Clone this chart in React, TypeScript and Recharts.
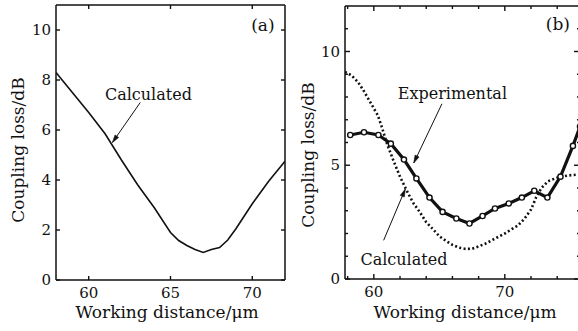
import React from 'react';
import { LineChart, Line, XAxis, YAxis, ReferenceLine, ReferenceDot } from 'recharts';

const FONT = '"DejaVu Serif", serif';
const INK = '#111';

// ---------- Panel (a): calculated coupling loss ----------
const calcAX = [58, 59, 60, 61, 62, 63, 64, 65, 65.5, 66, 66.5, 67, 67.5, 68, 68.5, 69, 69.5, 70, 70.5, 71, 71.5, 72];
const calcAY = [8.3, 7.5, 6.7, 5.85, 4.8, 3.8, 2.9, 1.9, 1.58, 1.38, 1.22, 1.1, 1.22, 1.3, 1.6, 2.05, 2.55, 3.05, 3.5, 3.95, 4.35, 4.75];
const aXTicks = [60, 65, 70];
const aYTicks = [0, 2, 4, 6, 8, 10];

// ---------- Panel (b): experimental vs calculated ----------
const expBX = [58.2, 59.25, 60.35, 61.3, 62.3, 63.25, 64.25, 65.25, 66.3, 67.3, 68.3, 69.25, 70.3, 71.3, 72.25, 73.25, 74.25, 75.2, 75.74];
const expBY = [6.33, 6.45, 6.33, 5.95, 5.25, 4.42, 3.58, 2.95, 2.66, 2.44, 2.77, 3.1, 3.32, 3.58, 3.88, 3.58, 4.5, 5.85, 6.7];
const calcBX = [57.8, 58.3, 58.8, 59.2, 59.6, 60.0, 60.3, 60.6, 61.0, 61.5, 62.0, 62.5, 63.0, 63.5, 64.0, 64.5, 65.0, 65.5, 66.0, 66.5, 67.0, 67.5, 68.0, 68.5, 69.0, 69.5, 70.0, 70.5, 71.0, 71.5, 72.0, 72.4, 72.8, 73.3, 74.0, 74.8, 75.74];
const calcBY = [9.1, 8.95, 8.65, 8.3, 7.9, 7.5, 7.2, 6.7, 5.95, 5.2, 4.5, 3.9, 3.35, 2.95, 2.5, 2.2, 1.88, 1.68, 1.5, 1.38, 1.32, 1.33, 1.43, 1.55, 1.7, 1.85, 2.0, 2.18, 2.35, 2.65, 3.05, 3.6, 4.0, 4.3, 4.45, 4.55, 4.6];
const bXTicks = [58, 60, 62, 64, 66, 68, 70, 72, 74];
const bXLabels = [60, 70];
const bYTicks = [0, 1, 2, 3, 4, 5, 6, 7, 8, 9, 10, 11];
const bYLabels = [0, 5, 10];

const zip = (xs: number[], ys: number[]) => xs.map((x, i) => ({ x, y: ys[i] }));
const dataA = zip(calcAX, calcAY);
const dataBExp = zip(expBX, expBY);
const dataBCalc = zip(calcBX, calcBY);

type Orient = 'bottom' | 'left' | 'top' | 'right';

const makeTick = (orient: Orient, labels: number[], majors: number[], majorLen: number, minorLen: number) =>
  (props: any) => {
    const { x, y, payload } = props;
    const v = payload.value;
    const len = majors.includes(v) ? majorLen : minorLen;
    const showLabel = labels.includes(v);
    let line: React.ReactNode = null;
    let label: React.ReactNode = null;
    if (orient === 'bottom') {
      line = <line x1={x} y1={y} x2={x} y2={y - len} stroke={INK} strokeWidth={1.4} />;
      if (showLabel) label = <text x={x} y={y + 18} textAnchor="middle" fontFamily={FONT} fontSize={15} fill={INK}>{v}</text>;
    } else if (orient === 'top') {
      line = <line x1={x} y1={y} x2={x} y2={y + len} stroke={INK} strokeWidth={1.4} />;
    } else if (orient === 'left') {
      line = <line x1={x} y1={y} x2={x + len} y2={y} stroke={INK} strokeWidth={1.4} />;
      if (showLabel) label = <text x={x - 5} y={y + 5} textAnchor="end" fontFamily={FONT} fontSize={15} fill={INK}>{v}</text>;
    } else {
      line = <line x1={x} y1={y} x2={x - len} y2={y} stroke={INK} strokeWidth={1.4} />;
    }
    return <g>{line}{label}</g>;
  };

const Arrow = (props: any) => {
  const { x1, y1, x2, y2 } = props;
  const ang = Math.atan2(y2 - y1, x2 - x1);
  const L = 8;
  const W = 0.28;
  const p1x = x2 - L * Math.cos(ang - W);
  const p1y = y2 - L * Math.sin(ang - W);
  const p2x = x2 - L * Math.cos(ang + W);
  const p2y = y2 - L * Math.sin(ang + W);
  return (
    <g>
      <line x1={x1} y1={y1} x2={x2} y2={y2} stroke={INK} strokeWidth={1} />
      <path d={`M${p1x},${p1y} L${x2},${y2} L${p2x},${p2y} Z`} fill={INK} stroke={INK} strokeWidth={0.6} />
    </g>
  );
};

const textShape = (txt: string, size: number) => (p: any) => (
  <text x={p.cx} y={p.cy} textAnchor="middle" fontFamily={FONT} fontSize={size} fill={INK}>{txt}</text>
);

const xTitle = (cx: number) => () => (
  <text x={cx} y={318} textAnchor="middle" fontFamily={FONT} fontSize={17} fill={INK}>
    Working distance/μm
  </text>
);

const yTitle = (cx: number, cy: number) => () => (
  <text x={cx} y={cy} transform={`rotate(-90 ${cx} ${cy})`} textAnchor="middle" dominantBaseline="central" fontFamily={FONT} fontSize={17} fill={INK}>
    Coupling loss/dB
  </text>
);

const axisLine = { stroke: INK, strokeWidth: 1.5 };

export default function App() {
  return (
    <div style={{ position: 'absolute', left: 0, top: 0, width: 578, height: 331, overflow: 'hidden', background: '#fff' }}>
      {/* Panel (a) */}
      <div style={{ position: 'absolute', left: 0, top: 0 }}>
        <LineChart width={290} height={331} margin={{ top: 4, right: 4, bottom: 0, left: 0 }}>
          <XAxis xAxisId={0} dataKey="x" type="number" domain={[58, 72]} ticks={aXTicks} interval={0}
            tickSize={0} tickMargin={0} height={51} axisLine={axisLine}
            tick={makeTick('bottom', aXTicks, aXTicks, 4, 4)} label={xTitle(167)} allowDataOverflow />
          <XAxis xAxisId="top" orientation="top" dataKey="x" type="number" domain={[58, 72]} ticks={aXTicks} interval={0}
            tickSize={0} tickMargin={0} height={1} axisLine={axisLine}
            tick={makeTick('top', [], aXTicks, 4, 4)} allowDataOverflow />
          <YAxis yAxisId={0} type="number" domain={[0, 11]} ticks={aYTicks} interval={0}
            tickSize={0} tickMargin={0} width={56} axisLine={axisLine}
            tick={makeTick('left', aYTicks, aYTicks, 4, 4)} label={yTitle(18, 150)} allowDataOverflow />
          <YAxis yAxisId="right" orientation="right" type="number" domain={[0, 11]} ticks={aYTicks} interval={0}
            tickSize={0} tickMargin={0} width={1} axisLine={axisLine}
            tick={makeTick('right', [], aYTicks, 4, 4)} allowDataOverflow />
          <Line xAxisId="top" yAxisId="right" data={dataA} dataKey="y" stroke="none" dot={false} isAnimationActive={false} />
          <Line xAxisId={0} yAxisId={0} data={dataA} dataKey="y" type="linear" stroke={INK} strokeWidth={1.6} dot={false} isAnimationActive={false} />
          <ReferenceLine xAxisId={0} yAxisId={0} segment={[{ x: 63.15, y: 7.1 }, { x: 61.45, y: 5.5 }]} shape={Arrow} />
          <ReferenceDot xAxisId={0} yAxisId={0} x={63.65} y={7.22} r={0} shape={textShape('Calculated', 16)} />
          <ReferenceDot xAxisId={0} yAxisId={0} x={70.65} y={9.98} r={0} shape={textShape('(a)', 17)} />
        </LineChart>
      </div>
      {/* Panel (b) */}
      <div style={{ position: 'absolute', left: 290, top: 0 }}>
        <LineChart width={292} height={331} margin={{ top: 5, right: 1, bottom: 0, left: 0 }}>
          <XAxis xAxisId={0} dataKey="x" type="number" domain={[57.8, 75.74]} ticks={bXTicks} interval={0}
            tickSize={0} tickMargin={0} height={52} axisLine={axisLine}
            tick={makeTick('bottom', bXLabels, bXLabels, 5, 3)} label={xTitle(175)} allowDataOverflow />
          <XAxis xAxisId="top" orientation="top" dataKey="x" type="number" domain={[57.8, 75.74]} ticks={bXTicks} interval={0}
            tickSize={0} tickMargin={0} height={1} axisLine={axisLine}
            tick={makeTick('top', [], bXLabels, 5, 3)} allowDataOverflow />
          <YAxis yAxisId={0} type="number" domain={[0, 12]} ticks={bYTicks} interval={0}
            tickSize={0} tickMargin={0} width={55} axisLine={axisLine}
            tick={makeTick('left', bYLabels, bYLabels, 5, 3)} label={yTitle(18, 155)} allowDataOverflow />
          <YAxis yAxisId="right" orientation="right" type="number" domain={[0, 12]} ticks={bYTicks} interval={0}
            tickSize={0} tickMargin={0} width={1} axisLine={axisLine}
            tick={makeTick('right', [], bYLabels, 6, 3)} allowDataOverflow />
          <Line xAxisId="top" yAxisId="right" data={dataBCalc} dataKey="y" stroke="none" dot={false} isAnimationActive={false} />
          <Line xAxisId={0} yAxisId={0} data={dataBCalc} dataKey="y" type="linear" stroke="#111" strokeWidth={2.6}
            strokeDasharray="2 2.4" dot={false} isAnimationActive={false} />
          <Line xAxisId={0} yAxisId={0} data={dataBExp} dataKey="y" type="linear" stroke={INK} strokeWidth={3.2}
            dot={{ r: 2.6, fill: '#fff', stroke: INK, strokeWidth: 1.4 }} isAnimationActive={false} />
          <ReferenceLine xAxisId={0} yAxisId={0} segment={[{ x: 65.2, y: 7.7 }, { x: 63.05, y: 5.1 }]} shape={Arrow} />
          <ReferenceLine xAxisId={0} yAxisId={0} segment={[{ x: 60.75, y: 1.7 }, { x: 62.4, y: 3.95 }]} shape={Arrow} />
          <ReferenceDot xAxisId={0} yAxisId={0} x={66.0} y={7.9} r={0} shape={textShape('Experimental', 16)} />
          <ReferenceDot xAxisId={0} yAxisId={0} x={62.3} y={0.62} r={0} shape={textShape('Calculated', 16)} />
          <ReferenceDot xAxisId={0} yAxisId={0} x={74.05} y={10.95} r={0} shape={textShape('(b)', 17)} />
        </LineChart>
      </div>
    </div>
  );
}
